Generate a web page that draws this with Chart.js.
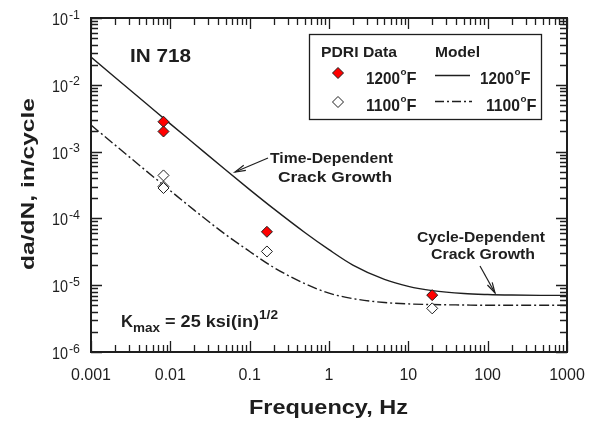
<!DOCTYPE html>
<html><head><meta charset="utf-8">
<script src="https://cdn.jsdelivr.net/npm/chart.js@4"></script>
<style>html,body{margin:0;padding:0;background:#fff}#wrap{width:600px;height:421px}</style>
</head><body><div id="wrap"><canvas id="c" width="600" height="421"></canvas></div>
<script>
// ---- data ----
const xTickValues = [0.001, 0.01, 0.1, 1, 10, 100, 1000];
const xTickLabels = ['0.001', '0.01', '0.1', '1', '10', '100', '1000'];
const yTickExponents = [-6, -5, -4, -3, -2, -1];

const data1200Freq = [0.0082, 0.0082, 0.165, 20];
const data1200Rate = [2.8e-3, 2.0e-3, 6.3e-5, 7.1e-6];
const data1100Freq = [0.0082, 0.0082, 0.0082, 0.165, 20];
const data1100Rate = [4.4e-4, 3.0e-4, 2.85e-4, 3.2e-5, 4.5e-6];

const modelFreq = [0.001, 0.002, 0.005, 0.01, 0.02, 0.05, 0.1, 0.2, 0.5, 1, 2, 5, 10, 20, 50, 100, 200, 500, 1000];
const model1200 = [2.6e-2, 1.3e-2, 5.2e-3, 2.6e-3, 1.31e-3, 5.3e-4, 2.7e-4, 1.4e-4, 6.1e-5, 3.4e-5, 2.0e-5, 1.22e-5, 9.6e-6, 8.3e-6, 7.5e-6, 7.25e-6, 7.12e-6, 7.05e-6, 7.03e-6];
const model1100 = [2.5e-3, 1.26e-3, 5.1e-4, 2.6e-4, 1.33e-4, 5.7e-5, 3.2e-5, 1.85e-5, 1.05e-5, 7.6e-6, 6.3e-6, 5.5e-6, 5.25e-6, 5.13e-6, 5.05e-6, 5.0e-6, 5.0e-6, 5.0e-6, 5.0e-6];

const seriesTemps = ['1200', '1100'];

const INK = '#1e1e1e';
const FONT = '"Liberation Sans", Arial, sans-serif';

function pts(xs, ys) { return xs.map((x, i) => ({ x: x, y: ys[i] })); }

// draw text starting at x (left), stretched horizontally to width w (if given)
function txt(ctx, s, x, y, font, w) {
  ctx.save();
  ctx.font = font;
  ctx.textAlign = 'left';
  ctx.textBaseline = 'alphabetic';
  const m = ctx.measureText(s).width;
  const sx = w ? w / m : 1;
  ctx.translate(x, y);
  ctx.scale(sx, 1);
  ctx.fillText(s, 0, 0);
  ctx.restore();
  return m * sx;
}

const frame = {
  id: 'frame',
  afterDraw(chart) {
    const ctx = chart.ctx;
    const a = chart.chartArea;
    const xs = chart.scales.x, ys = chart.scales.y;
    ctx.save();
    ctx.strokeStyle = INK;
    ctx.fillStyle = INK;
    // frame
    ctx.lineWidth = 2;
    ctx.strokeRect(a.left, a.top, a.right - a.left, a.bottom - a.top);
    ctx.lineWidth = 1.3;
    // x ticks (bottom & top)
    for (let e = -3; e <= 3; e++) {
      for (let m = 1; m <= 9; m++) {
        if (e === 3 && m > 1) break;
        const v = m * Math.pow(10, e);
        const px = Math.round(xs.getPixelForValue(v)) + 0.5;
        const len = m === 1 ? 11 : 7;
        ctx.beginPath();
        ctx.moveTo(px, a.bottom); ctx.lineTo(px, a.bottom - len);
        ctx.moveTo(px, a.top); ctx.lineTo(px, a.top + len);
        ctx.stroke();
      }
    }
    // y ticks (left & right)
    for (let e = -6; e <= -1; e++) {
      for (let m = 1; m <= 9; m++) {
        if (e === -1 && m > 1) break;
        const v = m * Math.pow(10, e);
        const py = Math.round(ys.getPixelForValue(v)) + 0.5;
        const len = m === 1 ? 11 : 7;
        ctx.beginPath();
        ctx.moveTo(a.left, py); ctx.lineTo(a.left + len, py);
        ctx.moveTo(a.right, py); ctx.lineTo(a.right - len, py);
        ctx.stroke();
      }
    }
    // y tick labels with superscript
    yTickExponents.forEach(e => {
      const py = ys.getPixelForValue(Math.pow(10, e));
      txt(ctx, '10', 52, py + 7, '17px ' + FONT, 16);
      txt(ctx, String(e), 69, py + 0.5, '12px ' + FONT, 11);
    });
    // axis titles
    txt(ctx, 'Frequency, Hz', 249, 414, 'bold 20px ' + FONT, 159);
    ctx.save();
    ctx.translate(34, 270);
    ctx.rotate(-Math.PI / 2);
    txt(ctx, 'da/dN, in/cycle', 0, 0, 'bold 19px ' + FONT, 172);
    ctx.restore();

    // IN 718
    txt(ctx, 'IN 718', 130, 62, 'bold 19px ' + FONT, 61);

    // Kmax
    let x = 121;
    const by = 327;
    x += txt(ctx, 'K', x, by, 'bold 17px ' + FONT, 12);
    x += txt(ctx, 'max', x, by + 5, 'bold 12px ' + FONT, 27);
    x += txt(ctx, ' = 25 ksi(in)', x, by, 'bold 17px ' + FONT, 99);
    txt(ctx, '1/2', x, by - 8, 'bold 12px ' + FONT, 19);

    // annotations
    const AF = 'bold 15px ' + FONT;
    txt(ctx, 'Time-Dependent', 270, 163, AF, 123);
    txt(ctx, 'Crack Growth', 278, 182, AF, 114);
    txt(ctx, 'Cycle-Dependent', 417, 242, AF, 128);
    txt(ctx, 'Crack Growth', 431, 259, AF, 104);

    function arrow(x1, y1, x2, y2) {
      ctx.lineWidth = 1.2;
      ctx.beginPath(); ctx.moveTo(x1, y1); ctx.lineTo(x2, y2); ctx.stroke();
      const ang = Math.atan2(y2 - y1, x2 - x1);
      const L = 11, w = 0.25;
      ctx.beginPath();
      ctx.moveTo(x2 - L * Math.cos(ang - w), y2 - L * Math.sin(ang - w));
      ctx.lineTo(x2, y2);
      ctx.lineTo(x2 - L * Math.cos(ang + w), y2 - L * Math.sin(ang + w));
      ctx.stroke();
    }
    arrow(268, 158, 235, 172);
    arrow(480, 266, 495, 293);

    // legend box
    ctx.lineWidth = 1.3;
    ctx.strokeRect(309.5, 34.5, 232, 85);
    txt(ctx, 'PDRI Data', 321, 57, 'bold 15px ' + FONT, 76);
    txt(ctx, 'Model', 435, 57, 'bold 15px ' + FONT, 45);
    function diamond(cx, cy, r, fill) {
      ctx.beginPath();
      ctx.moveTo(cx, cy - r); ctx.lineTo(cx + r, cy); ctx.lineTo(cx, cy + r); ctx.lineTo(cx - r, cy); ctx.closePath();
      ctx.fillStyle = fill; ctx.fill();
      ctx.lineWidth = 1; ctx.strokeStyle = INK; ctx.stroke();
      ctx.fillStyle = INK;
    }
    function tempLabel(t, x0, base) {
      let xx = x0;
      xx += txt(ctx, t, xx, base, 'bold 17px ' + FONT, 34);
      xx += txt(ctx, 'o', xx + 0.5, base - 9, 'bold 9px ' + FONT, 6);
      txt(ctx, 'F', xx + 0.5, base, 'bold 17px ' + FONT, 10);
    }
    diamond(338, 73, 5.5, '#ff0000');
    diamond(338, 102, 5.5, '#ffffff');
    tempLabel(seriesTemps[0], 366, 84);
    tempLabel(seriesTemps[1], 366, 111);
    tempLabel(seriesTemps[0], 480, 84);
    tempLabel(seriesTemps[1], 486, 111);
    ctx.lineWidth = 1.3;
    ctx.beginPath(); ctx.moveTo(435, 75.5); ctx.lineTo(470, 75.5); ctx.stroke();
    ctx.setLineDash([9, 3, 2, 3]);
    ctx.beginPath(); ctx.moveTo(435, 101.5); ctx.lineTo(472, 101.5); ctx.stroke();
    ctx.setLineDash([]);
    ctx.restore();
  }
};

new Chart(document.getElementById('c'), {
  type: 'scatter',
  data: {
    datasets: [
      { label: 'Model 1200F', data: pts(modelFreq, model1200), showLine: true, borderColor: INK, borderWidth: 1.4, pointRadius: 0, cubicInterpolationMode: 'monotone', order: 3 },
      { label: 'Model 1100F', data: pts(modelFreq, model1100), showLine: true, borderColor: INK, borderWidth: 1.4, borderDash: [10, 3, 2, 3], pointRadius: 0, cubicInterpolationMode: 'monotone', order: 3 },
      { label: 'PDRI 1100F', data: pts(data1100Freq, data1100Rate), pointStyle: 'rectRot', pointRadius: 5.5, backgroundColor: '#ffffff', borderColor: INK, borderWidth: 1, order: 1 },
      { label: 'PDRI 1200F', data: pts(data1200Freq, data1200Rate), pointStyle: 'rectRot', pointRadius: 5.5, backgroundColor: '#ff0000', borderColor: INK, borderWidth: 1, order: 1 }
    ]
  },
  options: {
    responsive: false,
    animation: false,
    devicePixelRatio: 1,
    layout: { padding: { top: 18, right: 33, left: 0, bottom: 0 } },
    plugins: { legend: { display: false }, tooltip: { enabled: false } },
    scales: {
      x: {
        type: 'logarithmic', min: 0.001, max: 1000,
        grid: { display: false, drawTicks: false },
        border: { display: false },
        afterFit: s => { s.height = 69; },
        afterBuildTicks: s => { s.ticks = xTickValues.map(v => ({ value: v })); },
        ticks: {
          autoSkip: false, maxRotation: 0, padding: 14, color: INK,
          font: { family: FONT, size: 16 },
          callback: (v) => { const i = xTickValues.findIndex(t => Math.abs(Math.log10(t) - Math.log10(v)) < 1e-6); return i >= 0 ? xTickLabels[i] : ''; }
        }
      },
      y: {
        type: 'logarithmic', min: 1e-6, max: 1e-1,
        grid: { display: false, drawTicks: false },
        border: { display: false },
        afterFit: s => { s.width = 91; },
        ticks: { display: false }
      }
    }
  },
  plugins: [frame]
});
</script>
</body></html>
